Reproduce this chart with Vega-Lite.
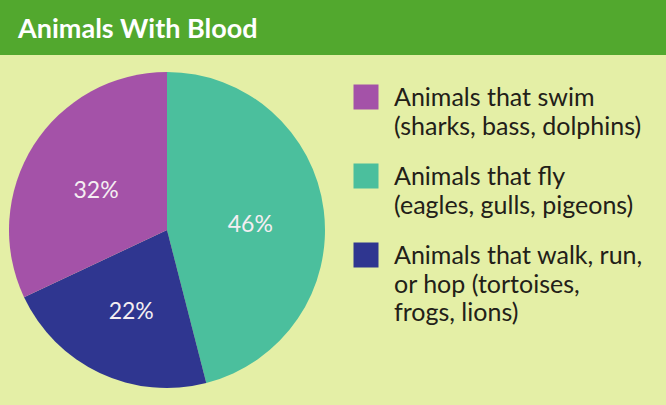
{
  "$schema": "https://vega.github.io/schema/vega-lite/v6.json",
  "background": "#e4efa6",
  "padding": 0,
  "spacing": 0,
  "config": {"view": {"stroke": null}, "concat": {"spacing": 0}},
  "data": {"values": [
    {"group": "fly", "pct": 0.46, "label": "Animals that fly\n(eagles, gulls, pigeons)"},
    {"group": "walk", "pct": 0.22, "label": "Animals that walk, run,\nor hop (tortoises,\nfrogs, lions)"},
    {"group": "swim", "pct": 0.32, "label": "Animals that swim\n(sharks, bass, dolphins)"}
  ]},
  "vconcat": [
    {
      "width": 666,
      "height": 55,
      "data": {"values": [{"title": "Animals With Blood"}]},
      "layer": [
        {"mark": {"type": "rect", "color": "#52a82e"}, "encoding": {}},
        {"mark": {"type": "text", "align": "left", "baseline": "alphabetic", "dx": 18, "dy": 10, "fontSize": 27, "font": "Lato", "fontWeight": "bold", "color": "#ffffff"},
         "encoding": {
           "x": {"datum": 0, "type": "quantitative", "scale": {"domain": [0, 1]}, "axis": null},
           "text": {"field": "title", "type": "nominal"}
         }}
      ]
    },
    {
      "spacing": 0,
      "hconcat": [
        {
          "width": 334,
          "height": 350,
          "encoding": {
            "theta": {"field": "pct", "type": "quantitative", "stack": true, "scale": {"range": [2.89027, 9.17346]}},
            "order": {"field": "pct", "type": "quantitative", "sort": "ascending"},
            "color": {"field": "group", "type": "nominal", "scale": {"domain": ["fly", "walk", "swim"], "range": ["#4bbf9d", "#2f3690", "#a452a8"]}, "legend": null}
          },
          "layer": [
            {"mark": {"type": "arc", "outerRadius": 158}},
            {"mark": {"type": "text", "radius": 84, "dy": 6, "fontSize": 23, "font": "Lato"},
             "encoding": {"text": {"field": "pct", "type": "quantitative", "format": ".0%"}, "color": {"value": "#f4eef2"}}}
          ]
        },
        {
          "width": 300,
          "height": 350,
          "encoding": {
            "x": {"datum": 0, "type": "quantitative", "scale": {"domain": [0, 1], "range": [32, 300]}, "axis": null},
            "y": {"field": "group", "type": "nominal", "sort": ["swim", "fly", "walk"], "scale": {"type": "point", "padding": 0, "range": [42, 200]}, "axis": null}
          },
          "layer": [
            {"mark": {"type": "point", "shape": "square", "filled": true, "size": 625, "opacity": 1},
             "encoding": {"color": {"field": "group", "type": "nominal", "legend": null}}},
            {"mark": {"type": "text", "align": "left", "baseline": "alphabetic", "dx": 28, "dy": 9, "fontSize": 25, "font": "Lato", "lineBreak": "\n", "lineHeight": 28.5, "color": "#222018"},
             "encoding": {"text": {"field": "label", "type": "nominal"}}}
          ]
        }
      ]
    }
  ]
}
